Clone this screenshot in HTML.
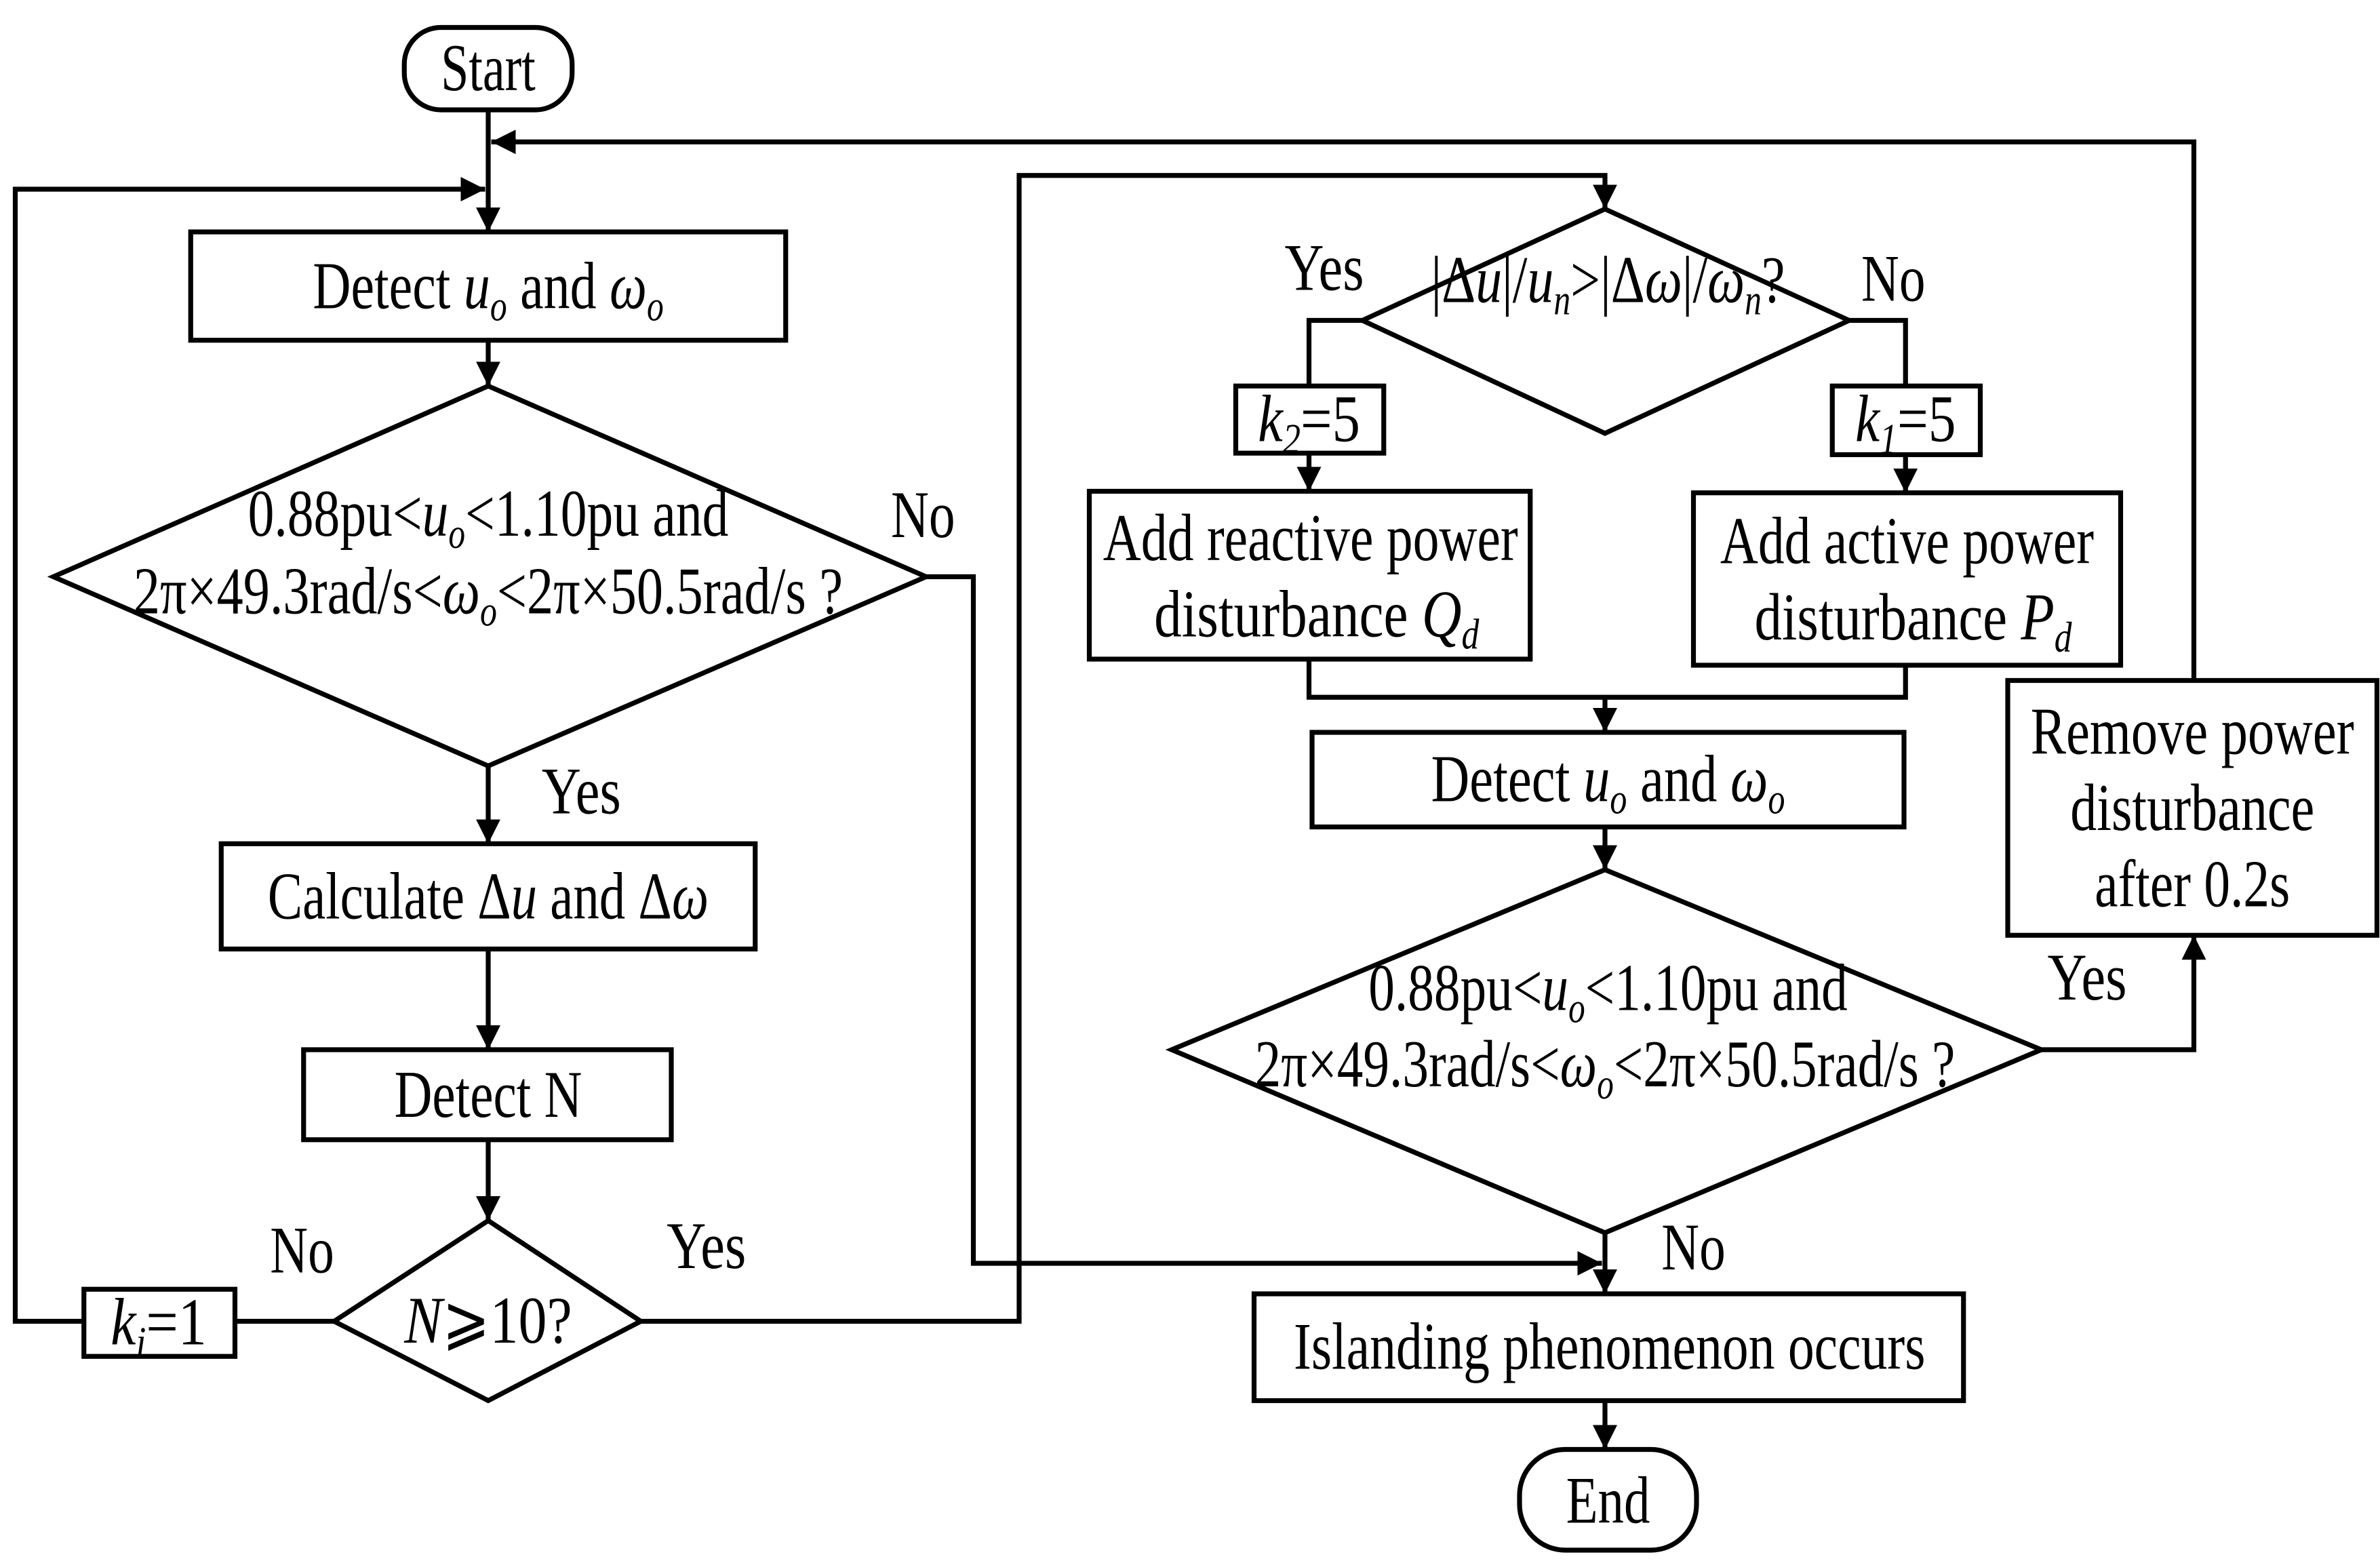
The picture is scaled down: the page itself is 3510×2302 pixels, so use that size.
<!DOCTYPE html>
<html><head><meta charset="utf-8"><style>html,body{margin:0;padding:0;background:#fff}svg{display:block}</style></head>
<body>
<svg width="3510" height="2302" viewBox="0 0 1560 1023.11" xmlns="http://www.w3.org/2000/svg">
<defs>
<marker id="a" viewBox="0 0 10 10" refX="10" refY="5" markerWidth="5" markerHeight="5" markerUnits="strokeWidth" orient="auto"><path d="M0,0L10,5L0,10z" fill="#000"/></marker>
</defs>
<g fill="none" stroke="#000" stroke-width="3.2">
<rect x="265" y="18" width="110" height="54" rx="24"/>
<rect x="125" y="152" width="390" height="71"/>
<polygon points="320,253 607,378 320,502 35,378"/>
<rect x="145" y="553" width="350" height="69"/>
<rect x="199" y="688" width="241" height="59"/>
<polygon points="320,800 420,866 320,918 219,866"/>
<rect x="55" y="845" width="99" height="44"/>
<polygon points="1052,137 1212,210 1052,284 893,210"/>
<rect x="810" y="253" width="97" height="44"/>
<rect x="1201" y="253" width="97" height="45"/>
<rect x="714" y="322" width="289" height="110"/>
<rect x="1110" y="323" width="280" height="113"/>
<rect x="860" y="480" width="388" height="62"/>
<polygon points="1052,570 1338,688 1052,808 768,688"/>
<rect x="1316" y="446" width="242" height="167"/>
<rect x="822" y="848" width="465" height="70"/>
<rect x="996" y="950" width="116" height="66" rx="30"/>
<path d="M320,72V152" marker-end="url(#a)"/>
<path d="M1438,446V93H322" marker-end="url(#a)"/>
<path d="M55,866H10V124H318" marker-end="url(#a)"/>
<path d="M320,223V253" marker-end="url(#a)"/>
<path d="M320,502V553" marker-end="url(#a)"/>
<path d="M320,622V688" marker-end="url(#a)"/>
<path d="M320,747V800" marker-end="url(#a)"/>
<path d="M219,866H154"/>
<path d="M420,866H668V115H1052V137" marker-end="url(#a)"/>
<path d="M607,378H638V828H1050" marker-end="url(#a)"/>
<path d="M893,210H858V253"/>
<path d="M858,297V322" marker-end="url(#a)"/>
<path d="M1212,210H1249V253"/>
<path d="M1249,298V323" marker-end="url(#a)"/>
<path d="M858,432V457H1249V436"/>
<path d="M1052,457V480" marker-end="url(#a)"/>
<path d="M1052,542V570" marker-end="url(#a)"/>
<path d="M1338,688H1438V613" marker-end="url(#a)"/>
<path d="M1052,808V848" marker-end="url(#a)"/>
<path d="M1052,918V950" marker-end="url(#a)"/>
</g>
<g font-family="Liberation Serif, serif" font-size="44" fill="#000" text-anchor="middle">
<text x="320" y="59" textLength="62" lengthAdjust="spacingAndGlyphs">Start</text>
<text x="320" y="202" textLength="230" lengthAdjust="spacingAndGlyphs">Detect <tspan font-style="italic">u</tspan><tspan font-style="italic" font-size="28" dy="8">o</tspan><tspan dy="-8"> and </tspan><tspan font-style="italic">ω</tspan><tspan font-style="italic" font-size="28" dy="8">o</tspan></text>
<text x="320" y="351" textLength="315" lengthAdjust="spacingAndGlyphs">0.88pu&lt;<tspan font-style="italic">u</tspan><tspan font-style="italic" font-size="28" dy="8">o</tspan><tspan dy="-8">&lt;1.10pu and</tspan></text>
<text x="320" y="402" textLength="465" lengthAdjust="spacingAndGlyphs">2π×49.3rad/s&lt;<tspan font-style="italic">ω</tspan><tspan font-style="italic" font-size="28" dy="8">o</tspan><tspan dy="-8">&lt;2π×50.5rad/s ?</tspan></text>
<text x="605" y="352" textLength="42" lengthAdjust="spacingAndGlyphs">No</text>
<text x="381" y="533" textLength="52" lengthAdjust="spacingAndGlyphs">Yes</text>
<text x="320" y="602" textLength="289" lengthAdjust="spacingAndGlyphs">Calculate Δ<tspan font-style="italic">u</tspan> and Δ<tspan font-style="italic">ω</tspan></text>
<text x="320" y="732" textLength="123" lengthAdjust="spacingAndGlyphs">Detect N</text>
<text x="320" y="880" textLength="110" lengthAdjust="spacingAndGlyphs"><tspan font-style="italic">N</tspan>⩾10?</text>
<text x="198" y="834" textLength="42" lengthAdjust="spacingAndGlyphs">No</text>
<text x="463" y="831" textLength="52" lengthAdjust="spacingAndGlyphs">Yes</text>
<text x="104" y="881" textLength="63" lengthAdjust="spacingAndGlyphs"><tspan font-style="italic">k</tspan><tspan font-style="italic" font-size="28" dy="8">i</tspan><tspan dy="-8">=1</tspan></text>
<text x="1054" y="198" textLength="232" lengthAdjust="spacingAndGlyphs">|Δ<tspan font-style="italic">u</tspan>|/<tspan font-style="italic">u</tspan><tspan font-style="italic" font-size="28" dy="8">n</tspan><tspan dy="-8">&gt;|Δ</tspan><tspan font-style="italic">ω</tspan>|/<tspan font-style="italic">ω</tspan><tspan font-style="italic" font-size="28" dy="8">n</tspan><tspan dy="-8">?</tspan></text>
<text x="868" y="190" textLength="52" lengthAdjust="spacingAndGlyphs">Yes</text>
<text x="1241" y="197" textLength="42" lengthAdjust="spacingAndGlyphs">No</text>
<text x="858" y="289" textLength="67" lengthAdjust="spacingAndGlyphs"><tspan font-style="italic">k</tspan><tspan font-style="italic" font-size="28" dy="8">2</tspan><tspan dy="-8">=5</tspan></text>
<text x="1249" y="289" textLength="66" lengthAdjust="spacingAndGlyphs"><tspan font-style="italic">k</tspan><tspan font-style="italic" font-size="28" dy="8">1</tspan><tspan dy="-8">=5</tspan></text>
<text x="859" y="367" textLength="272" lengthAdjust="spacingAndGlyphs">Add reactive power</text>
<text x="863" y="417" textLength="213" lengthAdjust="spacingAndGlyphs">disturbance <tspan font-style="italic">Q</tspan><tspan font-style="italic" font-size="28" dy="8">d</tspan></text>
<text x="1250" y="369" textLength="245" lengthAdjust="spacingAndGlyphs">Add active power</text>
<text x="1254" y="419" textLength="208" lengthAdjust="spacingAndGlyphs">disturbance <tspan font-style="italic">P</tspan><tspan font-style="italic" font-size="28" dy="8">d</tspan></text>
<text x="1054" y="525" textLength="232" lengthAdjust="spacingAndGlyphs">Detect <tspan font-style="italic">u</tspan><tspan font-style="italic" font-size="28" dy="8">o</tspan><tspan dy="-8"> and </tspan><tspan font-style="italic">ω</tspan><tspan font-style="italic" font-size="28" dy="8">o</tspan></text>
<text x="1054" y="662" textLength="314" lengthAdjust="spacingAndGlyphs">0.88pu&lt;<tspan font-style="italic">u</tspan><tspan font-style="italic" font-size="28" dy="8">o</tspan><tspan dy="-8">&lt;1.10pu and</tspan></text>
<text x="1052" y="712" textLength="459" lengthAdjust="spacingAndGlyphs">2π×49.3rad/s&lt;<tspan font-style="italic">ω</tspan><tspan font-style="italic" font-size="28" dy="8">o</tspan><tspan dy="-8">&lt;2π×50.5rad/s ?</tspan></text>
<text x="1368" y="655" textLength="52" lengthAdjust="spacingAndGlyphs">Yes</text>
<text x="1110" y="832" textLength="42" lengthAdjust="spacingAndGlyphs">No</text>
<text x="1437" y="494" textLength="212" lengthAdjust="spacingAndGlyphs">Remove power</text>
<text x="1437" y="544" textLength="160" lengthAdjust="spacingAndGlyphs">disturbance</text>
<text x="1437" y="594" textLength="128" lengthAdjust="spacingAndGlyphs">after 0.2s</text>
<text x="1055" y="897" textLength="414" lengthAdjust="spacingAndGlyphs">Islanding phenomenon occurs</text>
<text x="1054" y="998" textLength="55" lengthAdjust="spacingAndGlyphs">End</text>
</g>
</svg>
</body></html>
